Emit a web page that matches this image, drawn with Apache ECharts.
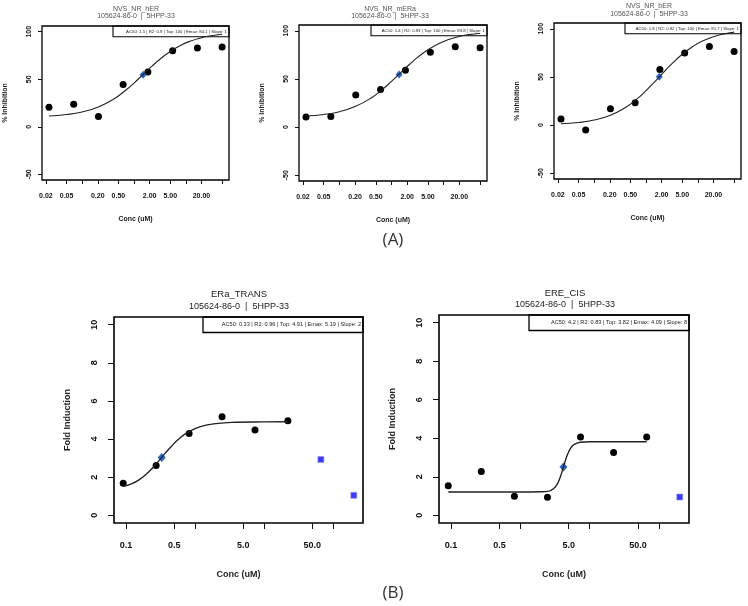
<!DOCTYPE html>
<html>
<head>
<meta charset="utf-8">
<script src="https://cdn.jsdelivr.net/npm/echarts@6/dist/echarts.min.js"></script>
<style>
html,body{margin:0;padding:0;background:#fff;}
#main{width:748px;height:606px;}
</style>
</head>
<body>
<div id="main"></div>
<script>
//浓度 (uM)
var concTop = [0.0229, 0.0686, 0.206, 0.617, 1.85, 5.56, 16.7, 50];
var concBottom = [0.0914, 0.274, 0.823, 2.47, 7.41, 22.2, 66.7, 200];
//实测点
var respHER = [20.6, 23.8, 10.8, 44.5, 57.5, 80, 82.8, 83.8];
var respMERa = [10.5, 11.1, 33.3, 38.9, 59, 77.7, 83.3, 82.3];
var respBER = [6.2, -5.2, 16.9, 23.1, 57.6, 74.8, 81.7, 76.5];
var respERaTrans = [1.69, 2.62, 4.29, 5.17, 4.47, 4.96, 2.93, 1.05];
var respERECis = [1.54, 2.27, 0.99, 0.94, 4.07, 3.26, 4.07, 0.95];
//被排除的点 (index)
var excludedERaTrans = [6, 7];
var excludedERECis = [7];
//AC50 点
var ac50HER = [1.5, 54.7];
var ac50MERa = [1.4, 54.5];
var ac50BER = [1.8, 50.3];
var ac50ERaTrans = [0.33, 3.04];
var ac50ERECis = [4.2, 2.51];
//拟合曲线
var curveXTop = [0.0229, 0.05, 0.1, 0.2, 0.4, 0.7, 1.0, 1.5, 2.2, 3.2, 5, 8, 12, 20, 30, 50];
var curveHER = [11.4, 12.9, 15.6, 20.6, 28.9, 38.7, 46, 55, 63.6, 71.3, 79.2, 85.8, 90, 93.7, 95.7, 97.4];
var curveMERa = [11.5, 13.1, 16, 21.3, 30, 40, 47.5, 56.6, 65, 72.6, 80.3, 86.6, 90.6, 94.1, 96, 97.5];
var curveBER = [1.3, 2.7, 5.3, 10, 18.2, 28, 35.7, 45.5, 55, 64, 73.5, 81.6, 87, 91.7, 94.3, 96.5];
var curveXERaTrans = [0.0914, 0.12, 0.16, 0.2, 0.25, 0.33, 0.45, 0.6, 0.82, 1.2, 2, 4, 10, 22.2];
var curveERaTrans = [1.52, 1.65, 1.9, 2.18, 2.53, 3.04, 3.6, 4.04, 4.39, 4.65, 4.81, 4.88, 4.9, 4.91];
var curveXERECis = [0.0914, 0.3, 1, 2, 2.5, 2.8, 3.2, 3.5, 3.8, 4.2, 4.6, 5, 5.5, 6, 7.4, 10, 20, 66.7];
var curveERECis = [1.21, 1.21, 1.21, 1.22, 1.24, 1.3, 1.47, 1.69, 2.01, 2.51, 2.97, 3.3, 3.55, 3.68, 3.79, 3.82, 3.82, 3.82];
//刻度
var tickTop = [0.02, 0.05, 0.1, 0.2, 0.5, 1, 2, 5, 10, 20, 50];
var labelTop = [0.02, 0.05, 0.2, 0.5, 2, 5, 20];
var tickBottom = [0.1, 0.5, 1, 5, 10, 50, 100];
var labelBottom = [0.1, 0.5, 5, 50];
var yTickTop = [-50, 0, 50, 100];
var yTickBottom = [0, 2, 4, 6, 8, 10];
//标题
var titles = ['NVS_NR_hER', 'NVS_NR_mERa', 'NVS_NR_bER', 'ERa_TRANS', 'ERE_CIS'];
var subTitle = '105624-86-0  |  5HPP-33';
var stats = [
	'AC50: 1.5 | R2: 0.9 | Top: 100 | Emax: 84.1 | Slope: 1',
	'AC50: 1.4 | R2: 0.93 | Top: 100 | Emax: 83.8 | Slope: 1',
	'AC50: 1.8 | R2: 0.92 | Top: 100 | Emax: 81.7 | Slope: 1',
	'AC50: 0.33 | R2: 0.96 | Top: 4.91 | Emax: 5.19 | Slope: 2',
	'AC50: 4.2 | R2: 0.83 | Top: 3.82 | Emax: 4.09 | Slope: 8'
];

var font = 'Liberation Sans, Arial, sans-serif';
var panels = [
	{box: [42, 26, 187, 154], conc: concTop, resp: respHER, excl: [], ac50: ac50HER, cx: curveXTop, cy: curveHER, small: true, title: [136, 9, 16.5]},
	{box: [299, 25, 188, 156], conc: concTop, resp: respMERa, excl: [], ac50: ac50MERa, cx: curveXTop, cy: curveMERa, small: true, title: [390, 9, 16.5]},
	{box: [554, 23, 187, 156], conc: concTop, resp: respBER, excl: [], ac50: ac50BER, cx: curveXTop, cy: curveBER, small: true, title: [649, 6, 14]},
	{box: [114, 317, 249, 206], conc: concBottom, resp: respERaTrans, excl: excludedERaTrans, ac50: ac50ERaTrans, cx: curveXERaTrans, cy: curveERaTrans, small: false, title: [239, 294, 306.5]},
	{box: [439, 315, 250, 208], conc: concBottom, resp: respERECis, excl: excludedERECis, ac50: ac50ERECis, cx: curveXERECis, cy: curveERECis, small: false, title: [565, 293, 305]}
];

var grid = [], xAxis = [], yAxis = [], series = [], graphic = [];
panels.forEach(function (p, i) {
	var s = p.small;
	grid.push({left: p.box[0], top: p.box[1], width: p.box[2], height: p.box[3], show: true,
		borderColor: '#000', borderWidth: s ? 1.3 : 1.6, backgroundColor: 'transparent'});
	xAxis.push({
		type: 'log', logBase: 10, gridIndex: i,
		min: s ? 0.0168 : 0.0672, max: s ? 67.9 : 272,
		name: 'Conc (uM)', nameLocation: 'middle', nameGap: s ? 36 : 47,
		nameTextStyle: {fontFamily: font, fontSize: s ? 7 : 9, fontWeight: 'bold', color: '#222'},
		axisLine: {show: false, onZero: false},
		axisTick: {show: true, length: s ? 4 : 6, lineStyle: {color: '#111', width: 1}, customValues: s ? tickTop : tickBottom},
		axisLabel: {customValues: s ? labelTop : labelBottom, margin: s ? 13 : 18,
			fontFamily: font, fontSize: s ? 7 : 9, fontWeight: 'bold', color: '#111',
			formatter: function (v) { return Number(v).toFixed(s ? 2 : 1); }},
		splitLine: {show: false}
	});
	yAxis.push({
		type: 'value', gridIndex: i,
		min: s ? -56 : -0.4, max: s ? 106 : 10.4,
		name: s ? '% Inhibition' : 'Fold Induction', nameLocation: 'middle', nameRotate: 90, nameGap: s ? 33 : 42,
		nameTextStyle: {fontFamily: font, fontSize: s ? 7 : 9, fontWeight: 'bold', color: '#222'},
		axisLine: {show: false, onZero: false},
		axisTick: {show: true, length: s ? 4 : 6, lineStyle: {color: '#111', width: 1}, customValues: s ? yTickTop : yTickBottom},
		axisLabel: {customValues: s ? yTickTop : yTickBottom, rotate: 90, margin: s ? 9 : 15,
			fontFamily: font, fontSize: s ? 7 : 9, fontWeight: 'bold', color: '#111'},
		splitLine: {show: false}
	});
	var pts = [], excl = [];
	p.conc.forEach(function (c, k) {
		if (k >= p.resp.length) return;
		if (p.excl.indexOf(k) >= 0) excl.push([c, p.resp[k]]);
		else pts.push([c, p.resp[k]]);
	});
	series.push({
		type: 'line', xAxisIndex: i, yAxisIndex: i, smooth: 0.5,
		showSymbol: false, silent: true,
		lineStyle: {color: '#222', width: s ? 1.1 : 1.4},
		data: p.cx.map(function (x, k) { return [x, p.cy[k]]; })
	});
	series.push({
		type: 'scatter', xAxisIndex: i, yAxisIndex: i, symbol: 'circle', symbolSize: 7,
		itemStyle: {color: '#000', opacity: 1}, data: pts
	});
	series.push({
		type: 'scatter', xAxisIndex: i, yAxisIndex: i, symbol: 'diamond', symbolSize: s ? [7, 8] : [8, 9],
		itemStyle: {color: '#2667c6', opacity: 1}, data: [p.ac50]
	});
	if (excl.length) {
		series.push({
			type: 'scatter', xAxisIndex: i, yAxisIndex: i, symbol: 'rect', symbolSize: 6,
			itemStyle: {color: '#3d3df2', borderColor: '#8f8ff8', borderWidth: 0.6, opacity: 1}, data: excl
		});
	}
	//标题
	graphic.push({type: 'text', x: p.title[0], y: p.title[1], silent: true,
		style: {text: titles[i], fill: s ? '#555' : '#222', font: (s ? '7px ' : '9.5px ') + font, textAlign: 'center', textVerticalAlign: 'middle'}});
	graphic.push({type: 'text', x: p.title[0], y: p.title[2], silent: true,
		style: {text: subTitle, fill: s ? '#555' : '#222', font: (s ? '7px ' : '9px ') + font, textAlign: 'center', textVerticalAlign: 'middle'}});
	//参数框
	var bw = s ? 116 : 160, bh = s ? 10.7 : 15.5;
	var bx = p.box[0] + p.box[2] - bw, by = p.box[1];
	graphic.push({type: 'rect', silent: true, shape: {x: bx, y: by, width: bw, height: bh},
		style: {fill: 'transparent', stroke: '#000', lineWidth: s ? 1.1 : 1.3}});
	graphic.push({type: 'text', x: bx + bw - 2, y: by + bh / 2, silent: true,
		style: {text: stats[i], fill: '#222', font: (s ? '4.3px ' : '5.6px ') + font, textAlign: 'right', textVerticalAlign: 'middle'}});
});
graphic.push({type: 'text', x: 393, y: 240, silent: true,
	style: {text: '(A)', fill: '#333', font: '17px Open Sans, sans-serif', textAlign: 'center', textVerticalAlign: 'middle'}});
graphic.push({type: 'text', x: 393, y: 593, silent: true,
	style: {text: '(B)', fill: '#333', font: '17px Open Sans, sans-serif', textAlign: 'center', textVerticalAlign: 'middle'}});

var chart = echarts.init(document.getElementById('main'));
chart.setOption({
	backgroundColor: '#fff',
	animation: false,
	grid: grid,
	xAxis: xAxis,
	yAxis: yAxis,
	series: series,
	graphic: graphic
});
</script>
</body>
</html>
